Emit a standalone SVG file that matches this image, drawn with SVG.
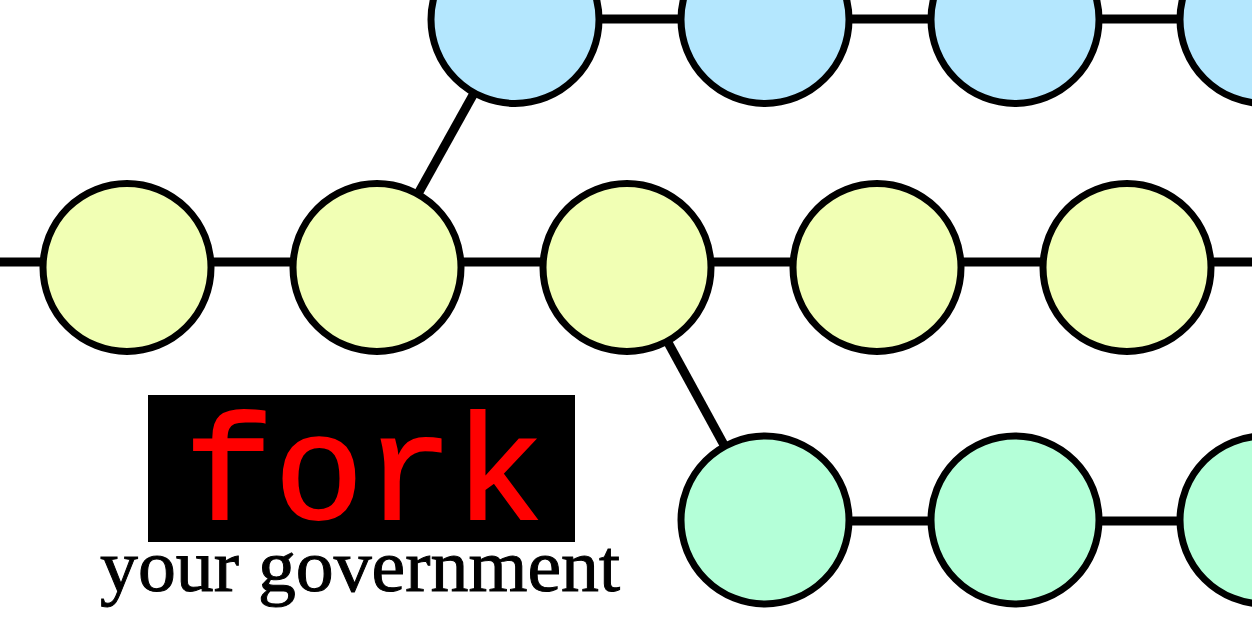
<svg xmlns="http://www.w3.org/2000/svg" width="1252" height="626" viewBox="0 0 1252 626">
<style>
.edge{stroke:#000;stroke-width:9;fill:none}
.n{stroke:#000;stroke-width:7}
.y{fill:#f1ffb4}
.b{fill:#b4e7fe}
.g{fill:#b4ffd8}
.fork{font-family:"Liberation Mono","DejaVu Sans Mono",monospace;font-size:150px;fill:#ff0000;stroke:#ff0000;stroke-width:2}
.sub{font-family:"Liberation Serif","DejaVu Serif",serif;font-size:75px;fill:#000;stroke:#000;stroke-width:1}
</style>
<rect width="1252" height="626" fill="#fff"/>
<g id="connectors">
<line class="edge" x1="0" y1="262" x2="1252" y2="262"/>
<line class="edge" x1="515" y1="19" x2="1252" y2="19"/>
<line class="edge" x1="765" y1="521" x2="1252" y2="521"/>
<line class="edge" x1="377" y1="267.5" x2="515" y2="19.5"/>
<line class="edge" x1="627" y1="267.5" x2="765" y2="520"/>
</g>
<g id="m1"><circle class="n y" cx="127" cy="267.5" r="84"/></g>
<g id="m2"><circle class="n y" cx="377" cy="267.5" r="84"/></g>
<g id="m3"><circle class="n y" cx="627" cy="267.5" r="84"/></g>
<g id="m4"><circle class="n y" cx="877" cy="267.5" r="84"/></g>
<g id="m5"><circle class="n y" cx="1127" cy="267.5" r="84"/></g>
<g id="t1"><circle class="n b" cx="515" cy="19.5" r="84"/></g>
<g id="t2"><circle class="n b" cx="765" cy="19.5" r="84"/></g>
<g id="t3"><circle class="n b" cx="1015" cy="19.5" r="84"/></g>
<g id="t4"><circle class="n b" cx="1264" cy="19.5" r="84"/></g>
<g id="b1"><circle class="n g" cx="765" cy="520" r="84"/></g>
<g id="b2"><circle class="n g" cx="1015" cy="520" r="84"/></g>
<g id="b3"><circle class="n g" cx="1264" cy="520" r="84"/></g>
<g id="logo">
<rect x="148" y="395" width="427" height="147" fill="#000"/>
<text class="fork" x="364" y="519" text-anchor="middle">fork</text>
<text class="sub" x="100" y="591" textLength="520" lengthAdjust="spacingAndGlyphs">your government</text>
</g>
</svg>
